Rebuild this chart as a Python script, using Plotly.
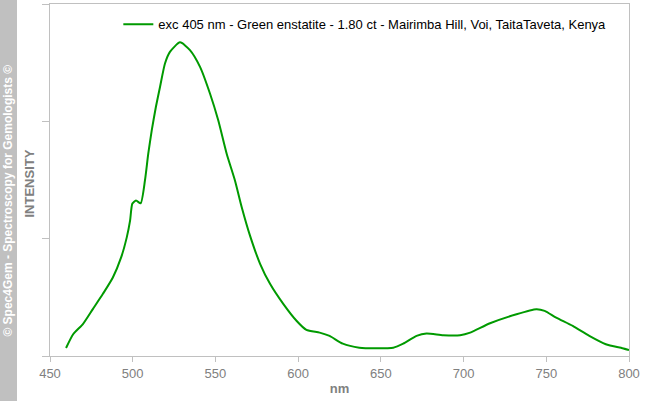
import plotly.graph_objects as go

wavelength = [459.7, 464, 470, 476, 482, 488, 493, 496.4, 498.4, 499.8, 502, 504.8, 507.4, 509.4,
              511.5, 514, 516.5, 519.5, 522.5, 528.6, 534.6, 540.7, 546.7, 551.7, 556.8, 561.8,
              565.9, 570.9, 577, 583, 591, 599, 605, 613, 619, 627, 637, 647, 657.5, 663.5, 671.6,
              677.6, 687.7, 697.9, 704, 716, 732, 744, 749, 756, 766, 776, 786, 796, 800]
intensity = [0.068, 0.185, 0.274, 0.402, 0.530, 0.669, 0.840, 1.011, 1.154, 1.299, 1.325, 1.302,
             1.496, 1.724, 1.923, 2.122, 2.293, 2.493, 2.592, 2.673, 2.607, 2.464, 2.237, 2.009,
             1.724, 1.496, 1.268, 1.026, 0.786, 0.615, 0.444, 0.300, 0.222, 0.199, 0.171, 0.105,
             0.071, 0.066, 0.071, 0.105, 0.171, 0.191, 0.177, 0.177, 0.199, 0.279, 0.356, 0.399,
             0.385, 0.327, 0.256, 0.171, 0.100, 0.066, 0.051]

series_name = "exc 405 nm - Green enstatite - 1.80 ct - Mairimba Hill, Voi, TaitaTaveta, Kenya"
x_ticks = [450, 500, 550, 600, 650, 700, 750, 800]

fig = go.Figure()
fig.add_trace(go.Scatter(x=wavelength, y=intensity, mode="lines", name=series_name,
                         line=dict(color="#009a00", width=2, shape="spline", smoothing=0.6)))

grey = "#c0c0c0"
W = 579.0
H = 351.0
fig.update_layout(
    width=646, height=401,
    margin=dict(l=50, r=17, t=4, b=45),
    paper_bgcolor="white", plot_bgcolor="white",
    font=dict(family="Liberation Sans, Arial, sans-serif", size=12, color="#808080"),
    showlegend=True,
    legend=dict(x=0.118, y=0.985, xanchor="left", yanchor="top", bgcolor="rgba(0,0,0,0)",
                font=dict(size=13, color="#000000"), itemwidth=30),
    xaxis=dict(range=[450, 800], tickvals=x_ticks, ticks="outside", ticklen=5, tickcolor=grey,
               showline=True, linecolor=grey, linewidth=1, mirror=True, showgrid=False,
               zeroline=False, tickfont=dict(size=13, color="#808080"),
               title=dict(text="<b>nm</b>", font=dict(size=13, color="#808080"), standoff=4)),
    yaxis=dict(range=[0, 3], tickvals=[0, 1, 2, 3], showticklabels=False, ticks="outside",
               ticklen=7, tickcolor=grey, showline=True, linecolor=grey, linewidth=1, mirror=True,
               showgrid=False, zeroline=False),
    shapes=[dict(type="rect", xref="paper", yref="paper", x0=-50 / W, x1=-33 / W, y0=-46 / H, y1=1 + 5 / H,
                 fillcolor="#c0c0c0", line=dict(width=0), layer="below")],
    annotations=[
        dict(text="<b>© Spec4Gem - Spectroscopy for Gemologists ©</b>", xref="paper", yref="paper",
             x=-41.5 / W, y=0.44, textangle=-90, showarrow=False,
             font=dict(size=12, color="white"), xanchor="center", yanchor="middle"),
        dict(text="<b>INTENSITY</b>", xref="paper", yref="paper",
             x=-20 / W, y=0.49, textangle=-90, showarrow=False,
             font=dict(size=13, color="#808080"), xanchor="center", yanchor="middle"),
    ],
)

fig.write_html("out.html", config={"displayModeBar": False},
               post_script="document.body.style.margin='0px';")
